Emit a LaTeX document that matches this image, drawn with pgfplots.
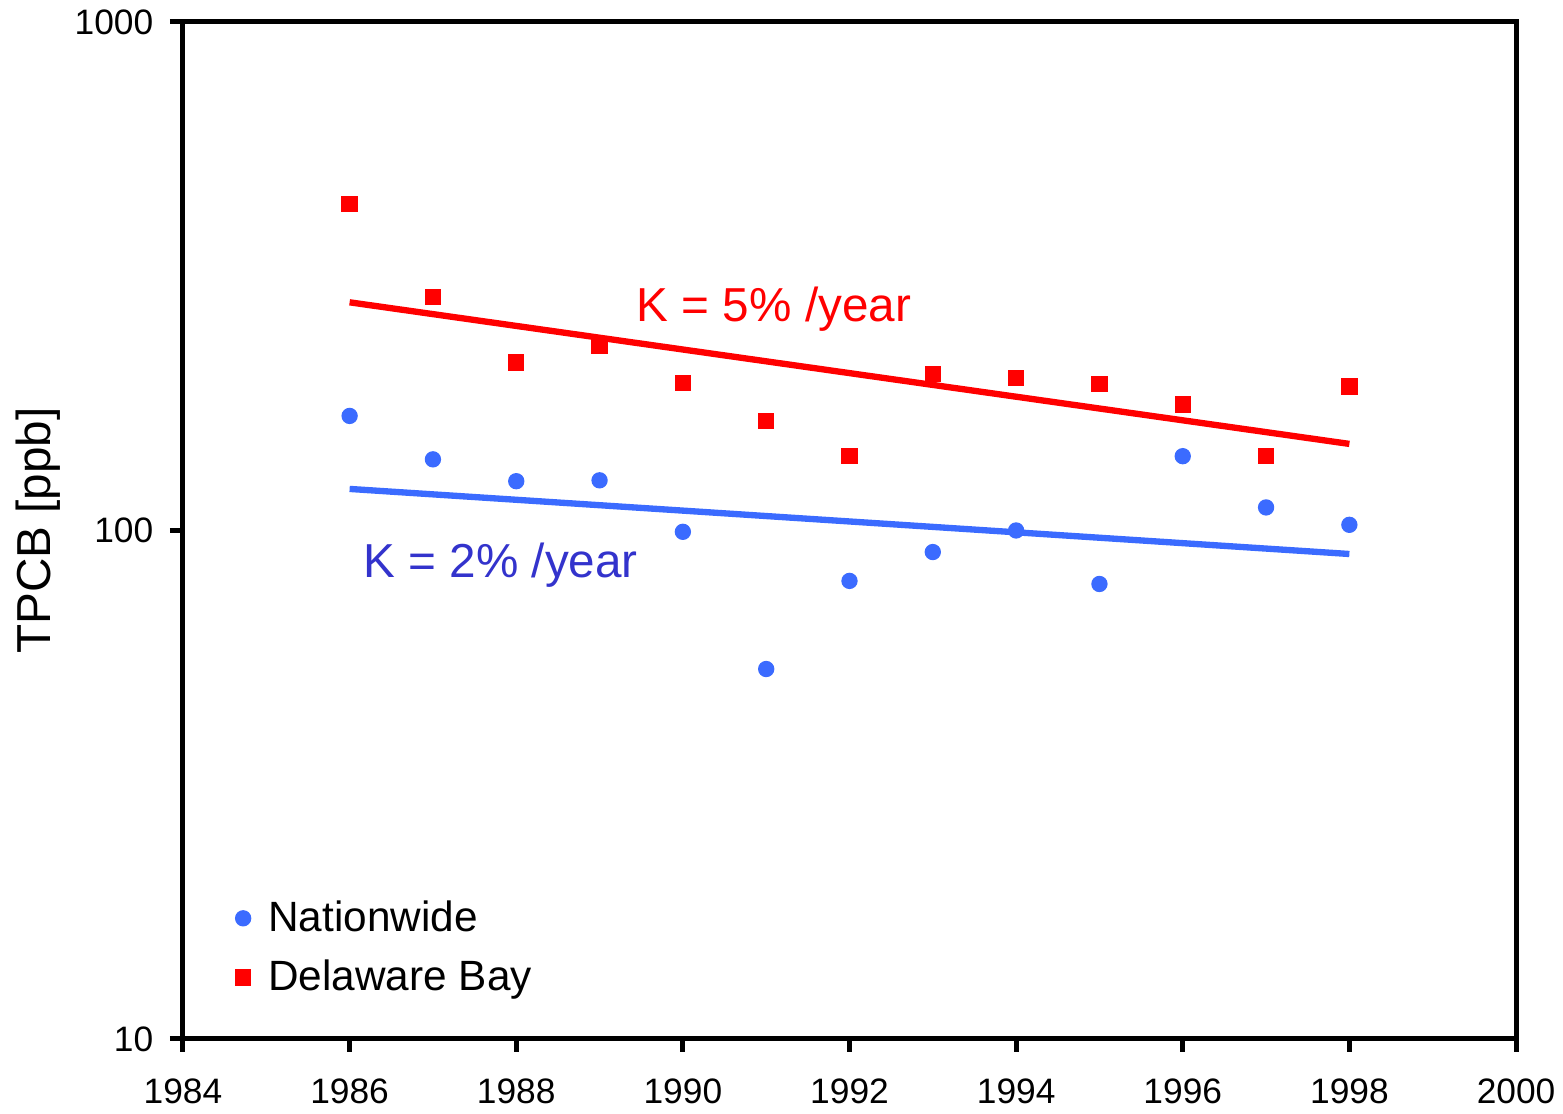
\documentclass[border=0pt]{standalone}
\usepackage{fontspec}
\setmainfont{Liberation Sans}
\usepackage{pgfplots}
\pgfplotsset{compat=1.18}
\definecolor{nblue}{RGB}{59,107,255}
\definecolor{kblue}{RGB}{51,51,204}
\definecolor{dred}{RGB}{255,0,0}
\begin{document}
\begin{tikzpicture}
\begin{axis}[
  scale only axis,
  width=399.9pt, height=305.1pt,
  at={(0,0)}, anchor=south west,
  xmin=1984, xmax=2000,
  ymode=log, ymin=10, ymax=1000,
  xtick={1984,1986,...,2000},
  ytick={10,100,1000},
  yticklabels={10,100,1000},
  xticklabels={1984,1986,1988,1990,1992,1994,1996,1998,2000},
  yminorticks=false,
  tick pos=left,
  tick align=outside,
  major tick length=3.9pt,
  every tick/.style={black, line width=1.5pt},
  axis line style={line width=1.5pt},
  /pgf/number format/assume math mode=true,
  tick label style={font=\fontsize{10.6}{12}\selectfont},
  xticklabel style={yshift=-4.5pt},
  yticklabel style={xshift=-1.5pt},
  ylabel={TPCB [ppb]},
  every axis y label/.style={at={(axis description cs:0,0.5)}, xshift=-43.5pt, rotate=90, anchor=center, font=\fontsize{14.3}{17}\selectfont},
  legend style={draw=none, fill=none, at={(axis description cs:0.034,0.029)}, anchor=south west,
    font=\fontsize{12.7}{15}\selectfont, row sep=3.1pt, inner sep=2pt,
    /tikz/every odd column/.append style={column sep=3.3pt}},
  legend cell align=left,
  clip=false,
]
\addplot[only marks, mark=*, mark size=2.25pt, color=nblue, mark options={draw=nblue, fill=nblue}]
coordinates {
(1986,168) (1987,138) (1988,125) (1989,125.5) (1990,99.4) (1991,53.4) (1992,79.6)
(1993,90.7) (1994,100) (1995,78.5) (1996,140) (1997,111) (1998,102.6)
};
\addlegendentry{Nationwide}
\addplot[only marks, mark=square*, mark size=2.25pt, color=dred, mark options={draw=dred, fill=dred}]
coordinates {
(1986,438) (1987,288) (1988,214) (1989,231) (1990,195) (1991,164) (1992,140)
(1993,203) (1994,199.5) (1995,194) (1996,177) (1997,140) (1998,192)
};
\addlegendentry{Delaware Bay}
\addplot[forget plot, no marks, color=dred, line width=1.9pt] coordinates {(1986,281) (1998,148)};
\addplot[forget plot, no marks, color=nblue, line width=1.9pt] coordinates {(1986,120.7) (1998,89.9)};
\node[anchor=west, text=dred, font=\fontsize{14.3}{17}\selectfont, inner sep=0pt] at (axis cs:1989.44,272) {K = 5\% /year};
\node[anchor=west, text=kblue, font=\fontsize{14.3}{17}\selectfont, inner sep=0pt] at (axis cs:1986.16,85.3) {K = 2\% /year};
\end{axis}
\pgfresetboundingbox
\path (-54.9pt,-22.5pt) rectangle (414pt,311.7pt);
\end{tikzpicture}
\end{document}
